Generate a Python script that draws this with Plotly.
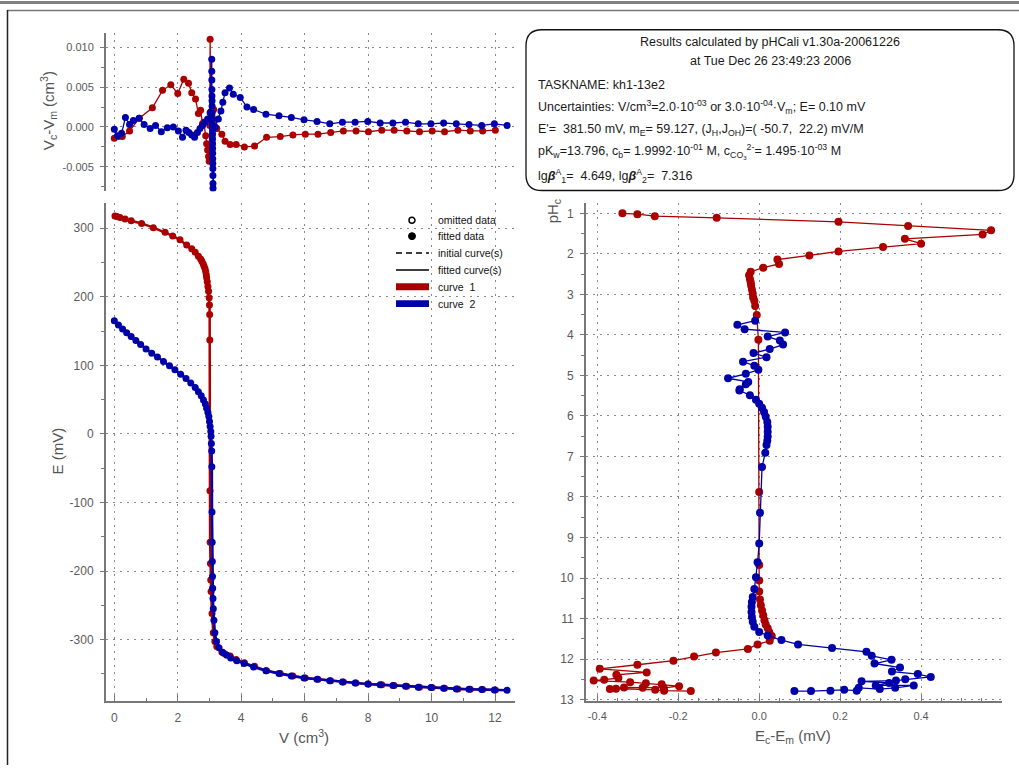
import plotly.graph_objects as go

W, H = 1019, 771
RED = "#AA0000"
BLUE = "#0000AA"
FONT = "Liberation Sans"

# ---------------- data ----------------
# curve 1 (red): E vs V
v1 = [0.02, 0.08, 0.18, 0.34, 0.53, 0.86, 1.23, 1.60, 1.84, 2.07, 2.28, 2.44, 2.55, 2.65, 2.72, 2.76,
      2.80, 2.83, 2.86, 2.88, 2.90, 2.91, 2.93, 2.95, 2.97, 2.99, 3.00, 3.005, 3.01, 3.015, 3.02, 3.03,
      3.04, 3.05, 3.08, 3.12, 3.17, 3.23, 3.39, 3.49, 3.65, 3.84, 4.10, 4.42, 4.80, 5.23, 5.63, 6.02,
      6.42, 6.82, 7.22, 7.62, 8.01, 8.43, 8.82, 9.22, 9.62, 10.02, 10.41, 10.83, 11.22, 11.61, 12.01]
e1 = [318, 317, 315.7, 313.3, 311, 307, 300.8, 294, 288.8, 283, 275.7, 270, 265, 259, 255, 251.7,
      248, 244.5, 241, 237, 232, 227.6, 222, 215, 208, 198.7, 188, 174, 137, -83, -158, -189,
      -213, -230, -262, -290, -303, -310, -318, -321, -324, -329, -334, -339, -345.5, -349.5, -353, -356,
      -358, -360, -362, -363.5, -365, -366, -367, -368, -369.5, -370, -371, -372, -372.5, -373, -373.5]

# curve 2 (blue): E vs V
v2 = [0.0, 0.13, 0.26, 0.39, 0.53, 0.68, 0.83, 1.00, 1.18, 1.36, 1.55, 1.74, 1.91, 2.09, 2.26, 2.41,
      2.55, 2.65, 2.74, 2.81, 2.87, 2.91, 2.95, 2.98, 3.00, 3.02, 3.04, 3.05, 3.06, 3.07, 3.075, 3.08,
      3.085, 3.09, 3.095, 3.10, 3.11, 3.12, 3.14, 3.17, 3.22, 3.30, 3.42, 3.55, 3.67, 3.86, 4.09, 4.39,
      4.78, 5.19, 5.58, 5.98, 6.39, 6.79, 7.19, 7.59, 7.99, 8.38, 8.78, 9.18, 9.58, 9.98, 10.38, 10.78,
      11.18, 11.58, 11.98, 12.38]
e2 = [165, 158.7, 152.9, 147.6, 141.9, 136.1, 130.3, 124, 117.8, 112, 105.7, 99.4, 93.6, 87, 80.7, 74.4,
      67.6, 61.4, 55.6, 49.4, 43.6, 37.3, 31.1, 25.3, 18, 10.8, 3.6, -3.6, -14, -25, -48, -114,
      -158, -186, -208, -225, -240, -255, -272, -290, -303, -312, -319, -323, -327, -331, -335, -340,
      -345.5, -349.5, -353, -356, -358, -360, -362, -363.5, -365, -366, -367, -368, -369.5, -370, -371, -372,
      -372.5, -373, -373.5, -374]

# volume residuals Vc - Vm
vr1 = [0.0, 0.13, 0.25, 0.48, 0.79, 1.20, 1.52, 1.78, 2.00, 2.19, 2.34, 2.44, 2.56, 2.65, 2.72, 2.78,
       2.82, 2.88, 2.91, 2.94, 2.97, 2.99, 3.01, 3.02, 3.04, 3.08, 3.13, 3.23, 3.39, 3.49, 3.65, 3.84,
       4.10, 4.42, 4.80, 5.23, 5.63, 6.02, 6.42, 6.82, 7.22, 7.62, 8.01, 8.43, 8.82, 9.22, 9.62, 10.02,
       10.41, 10.83, 11.22, 11.61, 12.01]
rr1 = [-0.0014, -0.0012, -0.0012, -0.0005, 0.0011, 0.0024, 0.0046, 0.0053, 0.0042, 0.0060, 0.0055, 0.0043,
       0.0035, 0.0017, 0.0021, 0.0004, 0.0006, -0.0011, -0.0021, -0.0029, -0.0037, -0.0043, 0.0002, 0.0110,
       0.0019, 0.0012, 0.0022, -0.0002, -0.0009, -0.0018, -0.0022, -0.0022, -0.0025, -0.0024, -0.0013, -0.0012,
       -0.0010, -0.0009, -0.0009, -0.0007, -0.0005, -0.0005, -0.0006, -0.0004, -0.0004, -0.0005, -0.0006,
       -0.0005, -0.0006, -0.0004, -0.0005, -0.0005, -0.0004]

vr2 = [0.0, 0.10, 0.23, 0.35, 0.48, 0.60, 0.78, 0.94, 1.13, 1.30, 1.48, 1.67, 1.86, 2.02, 2.15, 2.26,
       2.35, 2.44, 2.53, 2.62, 2.70, 2.78, 2.86, 2.94, 3.02,
       3.070, 3.072, 3.074, 3.076, 3.078, 3.080, 3.082, 3.084, 3.086, 3.088, 3.090, 3.092, 3.094, 3.096,
       3.098, 3.100, 3.102, 3.104, 3.106, 3.108, 3.110, 3.112,
       3.18, 3.28, 3.36, 3.42, 3.49, 3.63, 3.75, 3.97, 4.18, 4.39, 4.78, 5.19, 5.58, 5.98, 6.39, 6.79,
       7.19, 7.59, 7.99, 8.38, 8.78, 9.18, 9.58, 9.98, 10.38, 10.78, 11.18, 11.58, 11.98, 12.38]
rr2 = [-0.0003, -0.0011, -0.0008, 0.0012, 0.0003, 0.0008, 0.0011, 0.0003, -0.0002, 0.0002, -0.0006, -0.0001,
       0.0000, -0.0005, -0.0013, -0.0004, -0.0007, -0.0010, -0.0013, -0.0007, -0.0002, 0.0002, 0.0006, 0.0010,
       0.0018,
       0.0085, 0.0070, 0.0059, 0.0047, 0.0039, 0.0033, 0.0026, 0.0018, 0.0010, 0.0003, -0.0002,
       -0.0009, -0.0015, -0.0021, -0.0027, -0.0033, -0.0040, -0.0046, -0.0052, -0.0061, -0.0071, -0.0077,
       0.0000, 0.0010, 0.0020, 0.0031, 0.0043, 0.0049, 0.0041, 0.0037, 0.0025, 0.0022, 0.0016, 0.0014,
       0.0012, 0.0009, 0.0007, 0.0004, 0.0006, 0.0006, 0.0007, 0.0005, 0.0005, 0.0006, 0.0004, 0.0004,
       0.0005, 0.0004, 0.0003, 0.0002, 0.0004, 0.0002]

# potential residuals Ec - Em vs pHc
ph1 = [1.00, 1.02, 1.07, 1.11, 1.21, 1.31, 1.42, 1.52, 1.63, 1.75, 1.83, 1.94, 2.04, 2.14, 2.25, 2.34,
       2.44, 2.53, 2.62, 2.70, 2.78, 2.88, 2.98, 3.08, 3.16, 3.29, 3.51, 4.12, 7.88, 9.68, 10.06, 10.33,
       10.53, 10.67, 10.80, 10.92, 11.04, 11.15, 11.24, 11.34, 11.43, 11.55, 11.64, 11.75, 11.84, 11.94,
       12.04, 12.14, 12.24, 12.33, 12.39, 12.47, 12.51, 12.53, 12.57, 12.60, 12.62, 12.67, 12.71, 12.71,
       12.70, 12.74, 12.73, 12.76, 12.78, 12.79]
de1 = [-0.338, -0.301, -0.258, -0.105, 0.196, 0.368, 0.573, 0.552, 0.360, 0.400, 0.306, 0.196, 0.124, 0.045,
       0.049, 0.010, -0.021, -0.025, -0.023, -0.021, -0.020, -0.018, -0.016, -0.015, -0.012, -0.010, -0.006,
       -0.002, 0.0, 0.0, 0.0, 0.0, 0.002, 0.004, 0.007, 0.010, 0.013, 0.016, 0.021, 0.025, 0.031, 0.026,
       -0.004, -0.028, -0.107, -0.161, -0.212, -0.301, -0.394, -0.278, -0.353, -0.348, -0.383, -0.409,
       -0.319, -0.280, -0.241, -0.198, -0.236, -0.288, -0.334, -0.369, -0.354, -0.257, -0.235, -0.169]

ph2 = [3.65, 3.75, 3.86, 3.94, 4.04, 4.14, 4.24, 4.35, 4.45, 4.55, 4.66, 4.76, 4.86, 4.96, 5.07, 5.16,
       5.22, 5.34, 5.37, 5.49, 5.60, 5.70, 5.80, 5.90, 6.02, 6.15, 6.27, 6.39, 6.51, 6.61, 6.72, 6.91,
       7.26, 8.39, 9.15, 9.61, 9.98, 10.27, 10.47, 10.59, 10.71, 10.84, 10.96, 11.08, 11.20, 11.33, 11.42,
       11.53, 11.64, 11.73, 11.82, 11.92, 12.02, 12.11, 12.21, 12.31, 12.37, 12.44, 12.50, 12.53, 12.55,
       12.59, 12.65, 12.65, 12.71, 12.74, 12.71, 12.78, 12.76, 12.78, 12.79, 12.79]
de2 = [-0.010, -0.054, -0.036, 0.064, 0.021, 0.051, 0.059, 0.026, -0.014, 0.018, -0.040, -0.012, -0.002,
       -0.033, -0.077, -0.027, -0.033, -0.048, -0.049, -0.023, -0.008, 0.0, 0.007, 0.012, 0.016, 0.020,
       0.021, 0.021, 0.021, 0.020, 0.018, 0.015, 0.007, 0.002, 0.0, -0.004, -0.008, -0.012, -0.016, -0.018,
       -0.019, -0.019, -0.018, -0.016, -0.012, 0.0, 0.021, 0.055, 0.096, 0.180, 0.265, 0.278, 0.327, 0.285,
       0.348, 0.328, 0.392, 0.424, 0.361, 0.338, 0.253, 0.321, 0.288, 0.382, 0.336, 0.298, 0.246, 0.241,
       0.210, 0.176, 0.128, 0.087]

# tick labels (hyphen minus as in the reference)
res_ticks = [-0.005, 0.0, 0.005, 0.010]
res_ticktext = ["-0.005", "0.000", "0.005", "0.010"]
v_ticks = [0, 2, 4, 6, 8, 10, 12]
e_ticks = [-300, -200, -100, 0, 100, 200, 300]
e_ticktext = ["-300", "-200", "-100", "0", "100", "200", "300"]
de_ticks = [-0.4, -0.2, 0.0, 0.2, 0.4]
de_ticktext = ["-0.4", "-0.2", "0.0", "0.2", "0.4"]
ph_ticks = list(range(1, 14))

legend_labels = ["omitted data", "fitted data", "initial curve(s)", "fitted curve(s)", "curve  1", "curve  2"]

info_lines = [
    "TASKNAME: kh1-13e2",
    "Uncertainties: V/cm<sup>3</sup>=2.0\u00b710<sup>-03</sup> or 3.0\u00b710<sup>-04</sup>\u00b7V<sub>m</sub>; E= 0.10 mV",
    "E'=\u00a0 381.50 mV, m<sub>E</sub>= 59.127, (J<sub>H</sub>,J<sub>OH</sub>)=( -50.7,\u00a0 22.2) mV/M",
    "pK<sub>w</sub>=13.796, c<sub>b</sub>= 1.9992\u00b710<sup>-01</sup> M, c<sub>CO<sub>3</sub></sub><sup>2-</sup>= 1.495\u00b710<sup>-03</sup> M",
    "lg<b><i>\u03b2</i></b><sup>A</sup><sub>1</sub>=\u00a0 4.649, lg<b><i>\u03b2</i></b><sup>A</sup><sub>2</sub>=\u00a0 7.316",
]

for a, b in [(v1, e1), (v2, e2), (vr1, rr1), (vr2, rr2), (ph1, de1), (ph2, de2)]:
    assert len(a) == len(b), (len(a), len(b))


def px(x):
    return x / W


def py(y):
    return 1 - y / H


fig = go.Figure()

# top-left residuals
fig.add_trace(go.Scatter(x=vr1, y=rr1, mode="lines+markers", line=dict(color=RED, width=1.3),
                         marker=dict(color=RED, size=7), xaxis="x", yaxis="y", showlegend=False))
fig.add_trace(go.Scatter(x=vr2, y=rr2, mode="lines+markers", line=dict(color=BLUE, width=1.3),
                         marker=dict(color=BLUE, size=7), xaxis="x", yaxis="y", showlegend=False))
# bottom-left titration curves
fig.add_trace(go.Scatter(x=v1, y=e1, mode="lines+markers", line=dict(color=RED, width=2.5),
                         marker=dict(color=RED, size=7), xaxis="x2", yaxis="y2", showlegend=False))
fig.add_trace(go.Scatter(x=v2, y=e2, mode="lines+markers", line=dict(color=BLUE, width=2.5),
                         marker=dict(color=BLUE, size=7), xaxis="x2", yaxis="y2", showlegend=False))
# right residuals vs pH
fig.add_trace(go.Scatter(x=de1, y=ph1, mode="lines+markers", line=dict(color=RED, width=1.3),
                         marker=dict(color=RED, size=8), xaxis="x3", yaxis="y3", showlegend=False))
fig.add_trace(go.Scatter(x=de2, y=ph2, mode="lines+markers", line=dict(color=BLUE, width=1.3),
                         marker=dict(color=BLUE, size=8), xaxis="x3", yaxis="y3", showlegend=False))

f11 = dict(family=FONT, size=11, color="#5a5a5a")
f12 = dict(family=FONT, size=12, color="#5a5a5a")
grid = dict(showgrid=True, gridcolor="#888", gridwidth=1, griddash="2px,5px", zeroline=False)
line = dict(showline=True, linecolor="#777", linewidth=2)

xl = [px(106), px(515)]
fig.update_layout(
    width=W, height=H, margin=dict(l=0, r=0, t=0, b=0),
    paper_bgcolor="white", plot_bgcolor="white", showlegend=False,
    xaxis=dict(domain=xl, range=[-0.262, 12.63], anchor="y", tickmode="array", tickvals=v_ticks,
               showticklabels=False, ticks="", showline=False, **grid),
    yaxis=dict(domain=[py(193), py(33)], range=[-0.0081, 0.01183], anchor="x",
               tickmode="array", tickvals=res_ticks, ticktext=res_ticktext,
               ticks="outside", ticklen=4, tickcolor="#777",
               minor=dict(dtick=0.0025, tick0=0, ticks="outside", ticklen=3, tickcolor="#777", showgrid=False),
               tickfont=f11, ticklabelstandoff=4, **grid, **line),
    xaxis2=dict(domain=xl, range=[-0.262, 12.63], anchor="y2", tickmode="array", tickvals=v_ticks,
                ticks="inside", ticklen=6, tickcolor="#777",
                minor=dict(dtick=1, tick0=0, ticks="inside", ticklen=3, tickcolor="#777", showgrid=False),
                tickfont=f12, ticklabelstandoff=4, **grid, **line),
    yaxis2=dict(domain=[py(706.7), py(205)], range=[-389.9, 336.2], anchor="x2",
                tickmode="array", tickvals=e_ticks, ticktext=e_ticktext,
                ticks="outside", ticklen=4, tickcolor="#777",
                minor=dict(dtick=50, tick0=0, ticks="outside", ticklen=3, tickcolor="#777", showgrid=False),
                tickfont=f12, ticklabelstandoff=4, **grid, **line),
    xaxis3=dict(domain=[px(586), px(1002)], range=[-0.428, 0.6], anchor="y3",
                tickmode="array", tickvals=de_ticks, ticktext=de_ticktext,
                ticks="inside", ticklen=6, tickcolor="#777",
                minor=dict(dtick=0.05, tick0=0, ticks="inside", ticklen=3, tickcolor="#777", showgrid=False),
                tickfont=f11, ticklabelstandoff=4, **grid, **line),
    yaxis3=dict(domain=[py(706.7), py(205)], range=[13.04, 0.755], anchor="x3",
                tickmode="array", tickvals=ph_ticks,
                ticks="outside", ticklen=4, tickcolor="#777",
                minor=dict(dtick=0.5, tick0=0, ticks="outside", ticklen=3, tickcolor="#777", showgrid=False),
                tickfont=f12, ticklabelstandoff=4, **grid, **line),
)

shapes = []
ann = []

# outer frame
shapes.append(dict(type="line", xref="paper", yref="paper", x0=0, x1=1, y0=py(2.5), y1=py(2.5),
                   line=dict(color="#808080", width=3)))
shapes.append(dict(type="line", xref="paper", yref="paper", x0=px(7), x1=1, y0=py(10.5), y1=py(10.5),
                   line=dict(color="#777", width=1.5)))
shapes.append(dict(type="line", xref="paper", yref="paper", x0=px(7.5), x1=px(7.5), y0=py(10), y1=0,
                   line=dict(color="#222", width=1.5)))

# info box (rounded)
x0, x1, y0, y1, r = 526, 1014, 30, 192, 16
path = (f"M {px(x0 + r)},{py(y0)} L {px(x1 - r)},{py(y0)} Q {px(x1)},{py(y0)} {px(x1)},{py(y0 + r)} "
        f"L {px(x1)},{py(y1 - r)} Q {px(x1)},{py(y1)} {px(x1 - r)},{py(y1)} "
        f"L {px(x0 + r)},{py(y1)} Q {px(x0)},{py(y1)} {px(x0)},{py(y1 - r)} "
        f"L {px(x0)},{py(y0 + r)} Q {px(x0)},{py(y0)} {px(x0 + r)},{py(y0)} Z")
shapes.append(dict(type="path", xref="paper", yref="paper", path=path,
                   line=dict(color="#111", width=1.3), fillcolor="white"))

tf = dict(family=FONT, size=12.5, color="#1a1a1a")
ann.append(dict(x=px(770), y=py(42), text="Results calculated by pHCali v1.30a-20061226"))
ann.append(dict(x=px(770), y=py(61), text="at Tue Dec 26 23:49:23 2006"))
for txt, yy in zip(info_lines, [86, 108, 131, 153, 177]):
    ann.append(dict(x=px(536), y=py(yy), text=txt, xanchor="left"))
for a in ann:
    a.setdefault("xanchor", "center")
    a.update(xref="paper", yref="paper", yanchor="middle", showarrow=False, font=tf)

# legend (manual)
lf = dict(family=FONT, size=10.5, color="#111")
ly = [222, 238, 255, 272, 289, 306]
shapes.append(dict(type="circle", xref="paper", yref="paper", x0=px(409), x1=px(415), y0=py(225), y1=py(219),
                   line=dict(color="black", width=1.5), fillcolor="white"))
shapes.append(dict(type="circle", xref="paper", yref="paper", x0=px(408.5), x1=px(415.5), y0=py(241.5), y1=py(234.5),
                   line=dict(color="black", width=1), fillcolor="black"))
shapes.append(dict(type="line", xref="paper", yref="paper", x0=px(396), x1=px(429), y0=py(255), y1=py(255),
                   line=dict(color="black", width=1.5, dash="6px,4px")))
shapes.append(dict(type="line", xref="paper", yref="paper", x0=px(396), x1=px(429), y0=py(272), y1=py(272),
                   line=dict(color="black", width=1.5)))
shapes.append(dict(type="rect", xref="paper", yref="paper", x0=px(396), x1=px(429), y0=py(292.5), y1=py(285.5),
                   line=dict(width=0), fillcolor=RED))
shapes.append(dict(type="rect", xref="paper", yref="paper", x0=px(396), x1=px(429), y0=py(309.5), y1=py(302.5),
                   line=dict(width=0), fillcolor=BLUE))
for txt, yy in zip(legend_labels, ly):
    ann.append(dict(x=px(436), y=py(yy), text=txt, xref="paper", yref="paper", xanchor="left",
                    yanchor="middle", showarrow=False, font=lf))

# axis titles
af = dict(family=FONT, size=15, color="#555")
titles = [
    (48, 112, "V<sub>c</sub>-V<sub>m</sub> (cm<sup>3</sup>)", -90),
    (57, 455, "E (mV)", -90),
    (304, 742, "V (cm<sup>3</sup>)", 0),
    (793, 742, "E<sub>c</sub>-E<sub>m</sub> (mV)", 0),
    (553, 213, "pH<sub>c</sub>", -90),
]
for xx, yy, txt, ang in titles:
    ann.append(dict(x=px(xx), y=py(yy), text=txt, textangle=ang, xanchor="center", yanchor="middle",
                    xref="paper", yref="paper", showarrow=False, font=af))

fig.update_layout(shapes=shapes, annotations=ann)
fig.write_html("out.html")
